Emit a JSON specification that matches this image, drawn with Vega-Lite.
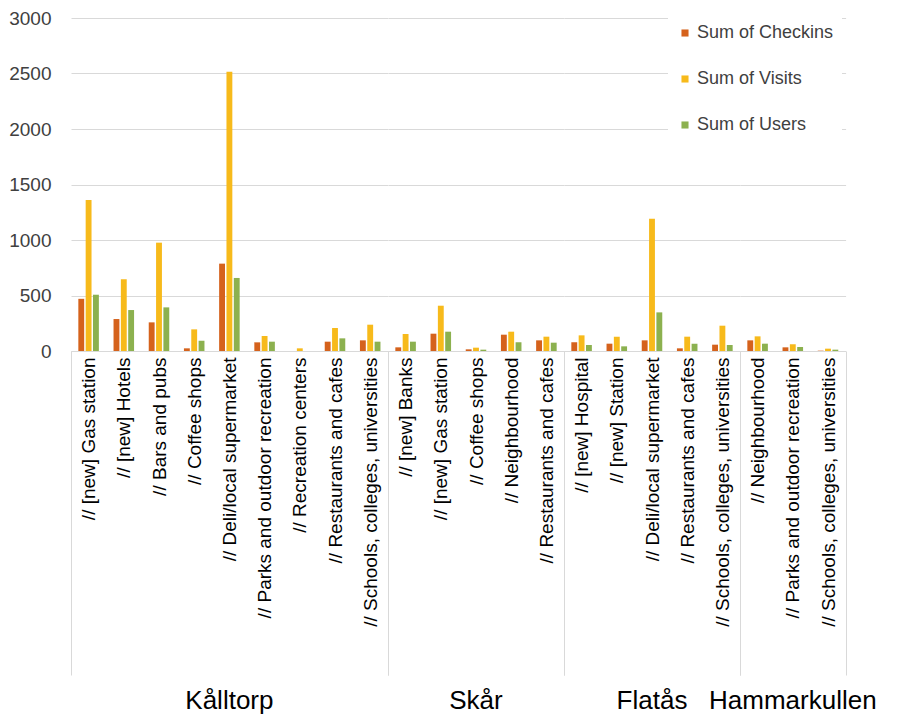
{
  "$schema": "https://vega.github.io/schema/vega-lite/v6.json",
  "padding": {"left": 8, "top": 9, "right": 5, "bottom": 5},
  "background": "white",
  "bounds": "flush",
  "data": {"values": [
    {"district": "Kålltorp", "cat": "// [new] Gas station", "series": "Sum of Checkins", "value": 470},
    {"district": "Kålltorp", "cat": "// [new] Gas station", "series": "Sum of Visits", "value": 1360},
    {"district": "Kålltorp", "cat": "// [new] Gas station", "series": "Sum of Users", "value": 507},
    {"district": "Kålltorp", "cat": "// [new] Hotels", "series": "Sum of Checkins", "value": 288},
    {"district": "Kålltorp", "cat": "// [new] Hotels", "series": "Sum of Visits", "value": 646},
    {"district": "Kålltorp", "cat": "// [new] Hotels", "series": "Sum of Users", "value": 369},
    {"district": "Kålltorp", "cat": "// Bars and pubs", "series": "Sum of Checkins", "value": 258},
    {"district": "Kålltorp", "cat": "// Bars and pubs", "series": "Sum of Visits", "value": 976},
    {"district": "Kålltorp", "cat": "// Bars and pubs", "series": "Sum of Users", "value": 393},
    {"district": "Kålltorp", "cat": "// Coffee shops", "series": "Sum of Checkins", "value": 24},
    {"district": "Kålltorp", "cat": "// Coffee shops", "series": "Sum of Visits", "value": 195},
    {"district": "Kålltorp", "cat": "// Coffee shops", "series": "Sum of Users", "value": 93},
    {"district": "Kålltorp", "cat": "// Deli/local supermarket", "series": "Sum of Checkins", "value": 787},
    {"district": "Kålltorp", "cat": "// Deli/local supermarket", "series": "Sum of Visits", "value": 2515},
    {"district": "Kålltorp", "cat": "// Deli/local supermarket", "series": "Sum of Users", "value": 658},
    {"district": "Kålltorp", "cat": "// Parks and outdoor recreation", "series": "Sum of Checkins", "value": 78},
    {"district": "Kålltorp", "cat": "// Parks and outdoor recreation", "series": "Sum of Visits", "value": 135},
    {"district": "Kålltorp", "cat": "// Parks and outdoor recreation", "series": "Sum of Users", "value": 84},
    {"district": "Kålltorp", "cat": "// Recreation centers", "series": "Sum of Checkins", "value": 0},
    {"district": "Kålltorp", "cat": "// Recreation centers", "series": "Sum of Visits", "value": 24},
    {"district": "Kålltorp", "cat": "// Recreation centers", "series": "Sum of Users", "value": 0},
    {"district": "Kålltorp", "cat": "// Restaurants and cafes", "series": "Sum of Checkins", "value": 84},
    {"district": "Kålltorp", "cat": "// Restaurants and cafes", "series": "Sum of Visits", "value": 207},
    {"district": "Kålltorp", "cat": "// Restaurants and cafes", "series": "Sum of Users", "value": 114},
    {"district": "Kålltorp", "cat": "// Schools, colleges, universities", "series": "Sum of Checkins", "value": 96},
    {"district": "Kålltorp", "cat": "// Schools, colleges, universities", "series": "Sum of Visits", "value": 237},
    {"district": "Kålltorp", "cat": "// Schools, colleges, universities", "series": "Sum of Users", "value": 84},
    {"district": "Skår", "cat": "// [new] Banks", "series": "Sum of Checkins", "value": 33},
    {"district": "Skår", "cat": "// [new] Banks", "series": "Sum of Visits", "value": 153},
    {"district": "Skår", "cat": "// [new] Banks", "series": "Sum of Users", "value": 84},
    {"district": "Skår", "cat": "// [new] Gas station", "series": "Sum of Checkins", "value": 156},
    {"district": "Skår", "cat": "// [new] Gas station", "series": "Sum of Visits", "value": 408},
    {"district": "Skår", "cat": "// [new] Gas station", "series": "Sum of Users", "value": 174},
    {"district": "Skår", "cat": "// Coffee shops", "series": "Sum of Checkins", "value": 15},
    {"district": "Skår", "cat": "// Coffee shops", "series": "Sum of Visits", "value": 30},
    {"district": "Skår", "cat": "// Coffee shops", "series": "Sum of Users", "value": 12},
    {"district": "Skår", "cat": "// Neighbourhood", "series": "Sum of Checkins", "value": 147},
    {"district": "Skår", "cat": "// Neighbourhood", "series": "Sum of Visits", "value": 174},
    {"district": "Skår", "cat": "// Neighbourhood", "series": "Sum of Users", "value": 78},
    {"district": "Skår", "cat": "// Restaurants and cafes", "series": "Sum of Checkins", "value": 96},
    {"district": "Skår", "cat": "// Restaurants and cafes", "series": "Sum of Visits", "value": 129},
    {"district": "Skår", "cat": "// Restaurants and cafes", "series": "Sum of Users", "value": 75},
    {"district": "Flatås", "cat": "// [new] Hospital", "series": "Sum of Checkins", "value": 78},
    {"district": "Flatås", "cat": "// [new] Hospital", "series": "Sum of Visits", "value": 141},
    {"district": "Flatås", "cat": "// [new] Hospital", "series": "Sum of Users", "value": 54},
    {"district": "Flatås", "cat": "// [new] Station", "series": "Sum of Checkins", "value": 66},
    {"district": "Flatås", "cat": "// [new] Station", "series": "Sum of Visits", "value": 129},
    {"district": "Flatås", "cat": "// [new] Station", "series": "Sum of Users", "value": 42},
    {"district": "Flatås", "cat": "// Deli/local supermarket", "series": "Sum of Checkins", "value": 96},
    {"district": "Flatås", "cat": "// Deli/local supermarket", "series": "Sum of Visits", "value": 1192},
    {"district": "Flatås", "cat": "// Deli/local supermarket", "series": "Sum of Users", "value": 348},
    {"district": "Flatås", "cat": "// Restaurants and cafes", "series": "Sum of Checkins", "value": 24},
    {"district": "Flatås", "cat": "// Restaurants and cafes", "series": "Sum of Visits", "value": 129},
    {"district": "Flatås", "cat": "// Restaurants and cafes", "series": "Sum of Users", "value": 66},
    {"district": "Flatås", "cat": "// Schools, colleges, universities", "series": "Sum of Checkins", "value": 57},
    {"district": "Flatås", "cat": "// Schools, colleges, universities", "series": "Sum of Visits", "value": 228},
    {"district": "Flatås", "cat": "// Schools, colleges, universities", "series": "Sum of Users", "value": 54},
    {"district": "Hammarkullen", "cat": "// Neighbourhood", "series": "Sum of Checkins", "value": 96},
    {"district": "Hammarkullen", "cat": "// Neighbourhood", "series": "Sum of Visits", "value": 132},
    {"district": "Hammarkullen", "cat": "// Neighbourhood", "series": "Sum of Users", "value": 66},
    {"district": "Hammarkullen", "cat": "// Parks and outdoor recreation", "series": "Sum of Checkins", "value": 33},
    {"district": "Hammarkullen", "cat": "// Parks and outdoor recreation", "series": "Sum of Visits", "value": 60},
    {"district": "Hammarkullen", "cat": "// Parks and outdoor recreation", "series": "Sum of Users", "value": 36},
    {"district": "Hammarkullen", "cat": "// Schools, colleges, universities", "series": "Sum of Checkins", "value": 3},
    {"district": "Hammarkullen", "cat": "// Schools, colleges, universities", "series": "Sum of Visits", "value": 21},
    {"district": "Hammarkullen", "cat": "// Schools, colleges, universities", "series": "Sum of Users", "value": 12}
  ]},
  "facet": {
    "column": {
      "field": "district",
      "type": "nominal",
      "sort": ["Kålltorp", "Skår", "Flatås", "Hammarkullen"],
      "header": {
        "title": null,
        "labelOrient": "bottom",
        "labelFont": "Liberation Sans",
        "labelFontSize": 26,
        "labelColor": "#000000",
        "labelPadding": 337
      }
    }
  },
  "spacing": 0,
  "resolve": {"scale": {"x": "independent", "xOffset": "independent"}},
  "spec": {
    "width": {"step": 35.2, "for": "position"},
    "height": 333,
    "mark": {"type": "bar"},
    "encoding": {
      "x": {
        "field": "cat",
        "type": "nominal",
        "sort": null,
        "scale": {"paddingInner": 0, "paddingOuter": 0},
        "axis": {
          "title": null,
          "labelAngle": -90,
          "labelFont": "Liberation Sans",
          "labelFontSize": 19,
          "labelColor": "#000000",
          "labelLimit": 400,
          "labelPadding": -318,
          "domainColor": "#d9d9d9",
          "domainWidth": 1,
          "tickBand": "extent",
          "tickSize": 324,
          "tickWidth": 1,
          "tickColor": {"condition": {"test": "datum.index == 1 || datum.extra", "value": "#d9d9d9"}, "value": "transparent"}
        }
      },
      "xOffset": {
        "field": "series",
        "type": "nominal",
        "sort": ["Sum of Checkins", "Sum of Visits", "Sum of Users"],
        "scale": {"paddingInner": 0.2, "paddingOuter": 1.05}
      },
      "y": {
        "field": "value",
        "type": "quantitative",
        "scale": {"domain": [0, 3000], "nice": false},
        "axis": {
          "title": null,
          "values": [0, 500, 1000, 1500, 2000, 2500, 3000],
          "format": "d",
          "domain": false,
          "ticks": false,
          "labelFont": "Liberation Sans",
          "labelFontSize": 19,
          "labelColor": "#404040",
          "labelPadding": 20,
          "gridColor": "#d9d9d9",
          "gridWidth": 1
        }
      },
      "color": {
        "field": "series",
        "type": "nominal",
        "sort": ["Sum of Checkins", "Sum of Visits", "Sum of Users"],
        "scale": {"domain": ["Sum of Checkins", "Sum of Visits", "Sum of Users"], "range": ["#D5621C", "#F7BA1B", "#8CB14F"]},
        "legend": {
          "title": null,
          "orient": "none",
          "legendX": 597,
          "legendY": -2,
          "fillColor": "white",
          "padding": 8,
          "rowPadding": 28,
          "symbolType": "square",
          "symbolSize": 50,
          "symbolStrokeWidth": 0,
          "labelFont": "Liberation Sans",
          "labelFontSize": 18,
          "labelColor": "#404040",
          "labelOffset": 3,
          "labelLimit": 300
        }
      }
    }
  },
  "config": {
    "view": {"stroke": null},
    "font": "Liberation Sans"
  }
}
